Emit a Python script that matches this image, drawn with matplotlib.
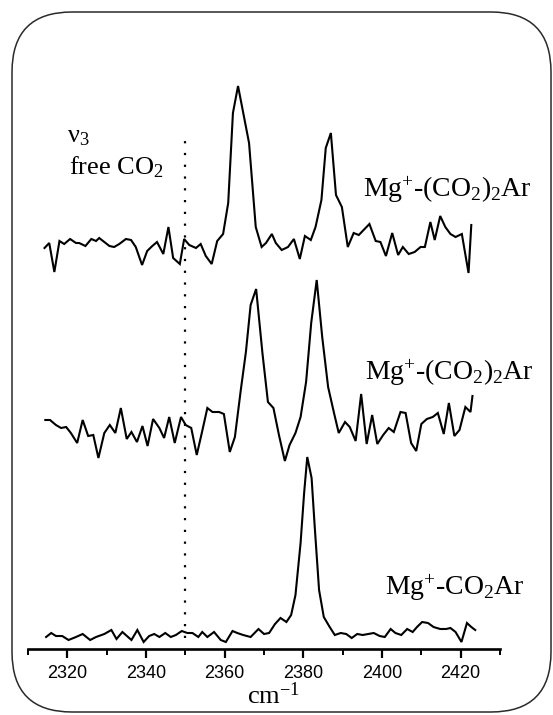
"""IR photodissociation spectra of Mg+-(CO2)n Ar complexes, stacked."""

from __future__ import annotations

import matplotlib

matplotlib.use("Agg")

import matplotlib.pyplot as plt
from matplotlib.patches import FancyBboxPatch
from matplotlib.ticker import MultipleLocator

# --- data (wavenumber in cm^-1, intensity in arbitrary units above baseline) ---
top_wn = [
    2314.2, 2315.4, 2316.7, 2318.0, 2319.2, 2320.7, 2322.2, 2323.0, 2324.6, 2326.1,
    2327.3, 2328.1, 2329.4, 2330.7, 2331.9, 2333.2, 2334.9, 2336.2, 2337.4, 2339.0,
    2340.3, 2341.6, 2342.8, 2344.4, 2345.7, 2346.9, 2348.6, 2349.7, 2351.0, 2352.7,
    2353.9, 2355.2, 2356.7, 2358.1, 2359.6, 2360.9, 2362.1, 2363.4, 2366.2, 2367.9,
    2369.4, 2370.5, 2372.0, 2373.0, 2374.5, 2376.1, 2377.6, 2379.1, 2380.4, 2381.9,
    2383.1, 2384.6, 2385.7, 2387.0, 2388.3, 2389.8, 2391.3, 2392.8, 2394.1, 2396.8,
    2398.4, 2399.6, 2401.0, 2402.6, 2404.1, 2405.3, 2406.8, 2408.3, 2409.8, 2410.9,
    2412.3, 2413.4, 2414.8, 2416.1, 2417.4, 2418.7, 2420.3, 2422.0, 2422.7,
]
top_int = [
    -3, 2, -27, 4, 1, 6, 2, 2, -1, 6,
    4, 7, 3, -1, -2, 1, 6, 5, -2, -20,
    -6, -1, 3, -9, 18, -13, -19, 6, 0, -3,
    1, -11, -19, 4, 11, 42, 132, 159, 102, 18,
    -2, 2, 11, 2, -5, -2, 6, -14, 9, 5,
    18, 45, 97, 112, 50, 38, -2, 12, 10, 21,
    4, 3, -11, 12, -10, -2, -9, -7, -2, -2,
    23, 5, 29, 18, 11, 8, 11, -28, 20,
]

mid_wn = [
    2314.4, 2315.6, 2317.1, 2318.4, 2319.7, 2320.9, 2322.5, 2323.9, 2325.3, 2326.6,
    2327.9, 2329.4, 2330.8, 2332.2, 2333.6, 2335.1, 2336.3, 2337.7, 2339.1, 2340.4,
    2341.8, 2343.4, 2344.6, 2345.9, 2347.3, 2348.9, 2350.1, 2351.5, 2352.9, 2354.3,
    2355.6, 2356.9, 2358.6, 2359.8, 2361.3, 2362.6, 2364.1, 2365.4, 2366.6, 2368.0,
    2369.6, 2371.0, 2372.4, 2373.8, 2375.3, 2376.5, 2378.0, 2379.3, 2380.7, 2382.0,
    2383.4, 2384.8, 2386.3, 2387.8, 2389.0, 2390.6, 2391.8, 2393.3, 2394.7, 2396.1,
    2397.5, 2398.8, 2400.3, 2401.7, 2403.0, 2404.7, 2406.0, 2407.4, 2408.7, 2410.0,
    2411.4, 2412.9, 2414.2, 2415.7, 2417.0, 2418.4, 2419.7, 2421.2, 2422.5, 2423.0,
]
mid_int = [
    10, 10, 5, 2, 3, -3, -13, 10, -6, -5,
    -28, -3, 5, -3, 22, -9, -2, -12, 4, -16,
    11, 2, -8, 13, -13, 13, 5, 2, -25, -1,
    22, 18, 18, 16, -22, -7, 40, 78, 125, 141,
    77, 28, 22, -5, -31, -15, -3, 13, 48, 107,
    150, 93, 43, 17, -3, 8, 3, -11, 36, -14,
    15, -14, -5, 2, -2, 18, 17, -13, -21, 6,
    11, 13, 17, -4, 27, -6, 0, 23, 18, 34,
]

bot_wn = [
    2314.6, 2315.9, 2317.1, 2318.7, 2320.3, 2322.2, 2323.9, 2325.8, 2327.3, 2329.4,
    2331.2, 2332.5, 2334.0, 2336.3, 2337.8, 2339.4, 2340.8, 2342.1, 2343.4, 2344.9,
    2346.3, 2347.6, 2349.1, 2350.5, 2351.8, 2353.3, 2354.3, 2355.6, 2357.3, 2359.0,
    2360.3, 2362.0, 2363.2, 2364.7, 2366.6, 2368.6, 2370.0, 2371.3, 2372.8, 2374.2,
    2375.7, 2376.9, 2378.0, 2379.3, 2380.2, 2381.0, 2382.1, 2382.9, 2384.0, 2385.2,
    2386.7, 2388.0, 2389.5, 2390.9, 2392.3, 2393.7, 2395.1, 2396.5, 2397.9, 2399.4,
    2400.7, 2402.2, 2403.4, 2404.9, 2406.4, 2407.8, 2408.9, 2410.2, 2411.7, 2413.1,
    2414.8, 2416.3, 2417.4, 2418.7, 2420.2, 2421.6, 2422.7, 2423.7,
]
bot_int = [
    -2, 2, -1, -1, -5, -2, 1, -5, -2, 1,
    5, -4, 3, -5, 5, -7, -1, 1, -2, 2,
    -2, 0, 4, 2, 2, -2, 3, -2, 3, -5,
    -7, 4, 2, 0, -2, 6, 1, 2, 11, 17,
    13, 20, 40, 92, 142, 178, 157, 108, 45, 18,
    8, 0, 2, 1, -3, 1, 0, 1, 2, -1,
    -2, 6, 2, 0, 6, 3, 8, 13, 12, 8,
    6, 6, 7, 3, -7, 12, 8, 5,
]

trace_labels = [
    r"Mg$^{+}$-(CO$_2$)$_2$Ar",
    r"Mg$^{+}$-(CO$_2$)$_2$Ar",
    r"Mg$^{+}$-CO$_2$Ar",
]
free_co2_wn = 2350.0
x_ticks = [2320, 2340, 2360, 2380, 2400, 2420]

# vertical offsets of the stacked traces
offsets = [404, 219, 14]

W, H = 553, 715


def main() -> None:
    plt.rcParams["font.family"] = ["Liberation Serif", "DejaVu Serif"]
    plt.rcParams["mathtext.fontset"] = "custom"
    plt.rcParams["mathtext.rm"] = "Liberation Serif"
    plt.rcParams["mathtext.it"] = "Liberation Serif:italic"
    plt.rcParams["mathtext.default"] = "regular"

    fig = plt.figure(figsize=(W / 100, H / 100), dpi=100)
    fig.patch.set_facecolor("white")

    # rounded frame around the whole picture
    frame = fig.add_axes([0, 0, 1, 1])
    frame.set_xlim(0, W)
    frame.set_ylim(H, 0)
    frame.axis("off")
    frame.add_patch(
        FancyBboxPatch(
            (12, 12), 539, 700,
            boxstyle="round,pad=0,rounding_size=60",
            fill=False, edgecolor="#2a2a2a", linewidth=1.1,
        )
    )

    ax = fig.add_axes([28 / W, 66 / H, 472 / W, 619 / H])
    ax.patch.set_alpha(0)

    traces = [(top_wn, top_int), (mid_wn, mid_int), (bot_wn, bot_int)]
    for (wn, inten), off in zip(traces, offsets):
        ax.plot(wn, [v + off for v in inten], color="black", lw=1.5,
                solid_joinstyle="miter")

    ax.plot([free_co2_wn, free_co2_wn], [11, 514], color="black", lw=1.6,
            linestyle=(0, (1, 4.3)))

    ax.text(2319.9, 507, r"$\nu_3$", fontsize=19, ha="left", va="baseline")
    ax.text(2320.4, 475, r"free CO$_2$", fontsize=19, ha="left", va="baseline")

    label_pos = [(2395.2, 452), (2395.7, 269), (2400.8, 54)]
    for text, (lx, ly) in zip(trace_labels, label_pos):
        ax.text(lx, ly, text, fontsize=20, ha="left", va="baseline")

    ax.set_xlim(2310, 2430)
    ax.set_ylim(0, 619)
    for side in ("left", "right", "top"):
        ax.spines[side].set_visible(False)
    ax.spines["bottom"].set_linewidth(1.9)
    ax.set_yticks([])
    ax.set_xticks(x_ticks)
    ax.xaxis.set_minor_locator(MultipleLocator(10))
    ax.tick_params(axis="x", which="major", direction="out", length=6.5,
                   width=1.6, pad=5)
    ax.tick_params(axis="x", which="minor", direction="out", length=4.5,
                   width=1.4)
    for lbl in ax.get_xticklabels():
        lbl.set_family(["Liberation Sans", "DejaVu Sans"])
        lbl.set_fontsize(13)

    # axis title placed just under the tick labels
    ax.text(2372.5, -55, r"cm$^{-1}$", fontsize=19, ha="center",
            va="baseline", clip_on=False)

    fig.savefig("out.png", dpi=100, facecolor="white")
    plt.close(fig)


if __name__ == "__main__":
    main()
